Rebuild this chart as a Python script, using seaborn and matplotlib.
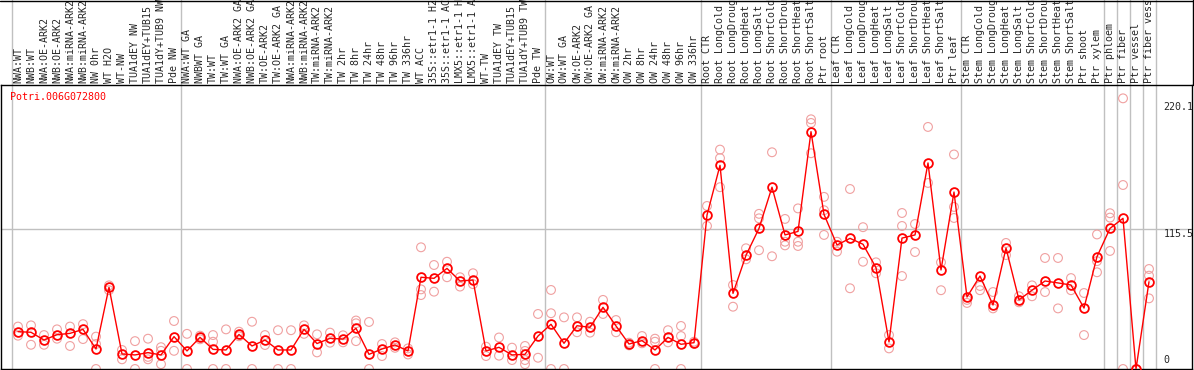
import matplotlib
matplotlib.use('Agg')
import matplotlib.pyplot as plt
import matplotlib.transforms as mtransforms
import seaborn as sns
import pandas as pd
import numpy as np

# sample labels (as far as they are visible in the header strip)
labels = [
    'NWA:WT', 'NWB:WT', 'NWA:OE-ARK2', 'NWB:OE-ARK2', 'NWA:miRNA-ARK2', 'NWB:miRNA-ARK2',
    'NW 0hr', 'WT H2O', 'WT-NW', 'TUA1dEY NW', 'TUA1dEY+TUB15', 'TUA1dY+TUB9 NW', 'Pde NW',
    'NWA:WT GA', 'NWBWT GA', 'TW:WT', 'TW:WT GA', 'NWA:OE-ARK2 GA', 'NWB:OE-ARK2 GA',
    'TW:OE-ARK2', 'TW:OE-ARK2 GA', 'NWA:miRNA-ARK2', 'NWB:miRNA-ARK2', 'TW:miRNA-ARK2',
    'TW:miRNA-ARK2', 'TW 2hr', 'TW 8hr', 'TW 24hr', 'TW 48hr', 'TW 96hr', 'TW 336hr',
    'WT ACC', '35S::etr1-1 H2', '35S::etr1-1 AC', 'LMX5::etr1-1 H', 'LMX5::etr1-1 A',
    'WT-TW', 'TUA1dEY TW', 'TUA1dEY+TUB15', 'TUA1dY+TUB9 TW', 'Pde TW',
    'OW:WT', 'OW:WT GA', 'OW:OE-ARK2', 'OW:OE-ARK2 GA', 'OW:miRNA-ARK2', 'OW:miRNA-ARK2',
    'OW 2hr', 'OW 8hr', 'OW 24hr', 'OW 48hr', 'OW 96hr', 'OW 336hr',
    'Root CTR', 'Root LongCold', 'Root LongDroug', 'Root LongHeat', 'Root LongSalt',
    'Root ShortCold', 'Root ShortDrou', 'Root ShortHeat', 'Root ShortSalt', 'Ptr root',
    'Leaf CTR', 'Leaf LongCold', 'Leaf LongDroug', 'Leaf LongHeat', 'Leaf LongSalt',
    'Leaf ShortCold', 'Leaf ShortDrou', 'Leaf ShortHeat', 'Leaf ShortSalt', 'Ptr leaf',
    'Stem CTR', 'Stem LongCold', 'Stem LongDroug', 'Stem LongHeat', 'Stem LongSalt',
    'Stem ShortCold', 'Stem ShortDrou', 'Stem ShortHeat', 'Stem ShortSalt', 'Ptr shoot',
    'Ptr xylem', 'Ptr phloem', 'Ptr fiber', 'Ptr vessel', 'Ptr fiber vess',
]

group_sizes = [13, 28, 12, 10, 10, 11, 1, 1, 1, 1]

means = [
    30.8, 30.3, 23.9, 28.3, 29.4, 32.7, 16.5, 67.4, 12.4, 11.6, 13.5, 11.6, 26.7,
    14.9, 26.1, 16.2, 15.7, 28.5, 19.0, 23.9, 15.7, 15.7, 32.7, 21.0, 25.3, 24.7, 33.6,
    12.1, 16.5, 19.8, 14.9, 75.7, 74.8, 83.0, 72.6, 73.4, 14.9, 17.9, 11.6, 12.1, 27.2,
    36.9, 21.2, 35.7, 34.4, 50.9, 35.5, 20.6, 23.4, 15.7, 26.1, 20.4, 21.7,
    127.0, 168.0, 62.4, 93.8, 116.0, 150.0, 110.6, 113.5, 195.8, 127.6,
    102.3, 107.8, 102.9, 83.6, 22.3, 108.0, 110.6, 170.0, 81.7, 146.0,
    59.4, 76.7, 52.8, 99.8, 57.0, 65.0, 72.6, 71.0, 69.3, 50.3, 92.7,
    116.0, 124.3, 0.0, 72.0,
]

replicates = [
    [35, 27.5], [36, 20], [28, 20], [32.7, 25], [35, 19], [37, 24.7], [26.7, 20.6, 0],
    [69, 65], [15.7, 8], [23, 0], [25, 8, 10], [18, 4, 15], [39.6, 15],
    [29, 0], [27.5, 24.5], [28, 22.5, 0], [32.7, 0], [30.8, 27], [39, 0], [28, 19.8],
    [32, 0], [32, 0], [36, 29], [28.6, 13.7], [30, 21.7], [27.8, 22], [40, 37.7, 23],
    [38.8, 0], [20.6, 10.7], [22, 17.5], [12, 17], [100.4, 65.7, 61], [85.8, 63.8],
    [88.5, 75.7], [75.7, 68], [79, 70], [18.4, 10.7], [26, 11], [17.6, 7.4],
    [19, 14.9, 7.4, 4], [45.4, 9.3],
    [65.2, 46, 0], [42.6, 0], [42.6, 30.3], [39, 30], [57, 45.4], [40.4, 30.3],
    [21.7, 19.5], [27.2, 21.2], [25, 22.5, 0], [32, 22], [35.5, 27.2, 0], [22.5, 20.8],
    [134.5, 118], [181, 174, 150], [69.3, 51.4], [99.6, 90.5], [128, 124.3, 98],
    [178.8, 93], [123.8, 105, 102], [132.5, 105, 101.5], [206, 203, 178], [142, 131, 110.6],
    [105, 96.8], [148.5, 66.6], [117, 88.5], [88, 79], [28, 17], [128.7, 118, 76.7],
    [119.6, 96.5], [199.7, 153.5], [88, 65], [177, 133.7, 124.6],
    [57, 54.5], [68.5, 65], [63.5, 50], [104, 94], [60, 55], [69, 60], [91.6, 63.5],
    [91.6, 50], [75, 65], [62.7, 28], [111, 89, 79.8],
    [128.5, 124.9, 97.4], [223.3, 151.8, 0], [0], [82.5, 77, 58.3],
]

gene_name = 'Potri.006G072800'
ytick_vals = [220.1, 115.5, 0]

mean_df = pd.DataFrame({'pos': np.arange(len(means)), 'value': means})
rep_df = pd.DataFrame([(i, v) for i, vals in enumerate(replicates) for v in vals],
                      columns=['pos', 'value'])

sns.set_style('white')
plt.rcParams['font.family'] = ['DejaVu Sans Mono']
fs = 7.2

W, H = 1194, 370
fig = plt.figure(figsize=(W / 100, H / 100), dpi=100)
left, right, top, bottom = 1, 1192, 85, 369
ax = fig.add_axes([left / W, (H - bottom) / H, (right - left) / W, (bottom - top) / H])

col_w = 13
x0 = 18
xmin = -(x0 - left) / col_w
ax.set_xlim(xmin, xmin + (right - left) / col_w)
ax.set_ylim(0, 234.3)

# group separators, running up through the label strip
bounds = np.concatenate([[0], np.cumsum(group_sizes)]) - 0.5
for b in bounds:
    ax.axvline(b, ymin=0, ymax=bottom / (bottom - top), color='#c0c0c0', lw=1,
               clip_on=False, zorder=0)
ax.axhline(115.5, color='#c0c0c0', lw=1, zorder=0)

sns.scatterplot(data=rep_df, x='pos', y='value', ax=ax, marker='o', s=40,
                linewidth=0.8, legend=False, zorder=2)
pts = ax.collections[-1]
pts.set_facecolor('none')
pts.set_edgecolor('#f0a0a0')

sns.lineplot(data=mean_df, x='pos', y='value', ax=ax, color='red', lw=1,
             marker='o', markersize=6.3, markerfacecolor='none',
             markeredgecolor='red', markeredgewidth=1.3, zorder=3)

trans = mtransforms.blended_transform_factory(ax.transData, ax.transAxes)
for i, lab in enumerate(labels):
    ax.text(i, 1 + 2 / (bottom - top), lab, transform=trans, rotation=90,
            ha='center', va='bottom', fontsize=fs, clip_on=False)

for v in ytick_vals:
    ax.text(88.1, v if v > 0 else 3, f'{v:g}', ha='left',
            va='top' if v > 0 else 'bottom', fontsize=fs)

fig.text(10 / W, 1 - 97 / H, gene_name, color='red', fontsize=fs, ha='left', va='center')

ax.set_xticks([])
ax.set_yticks([])
ax.set_xlabel('')
ax.set_ylabel('')
for sp in ax.spines.values():
    sp.set_visible(True)
    sp.set_color('black')
    sp.set_linewidth(1)

# top and right frame of the label strip
fig.add_artist(plt.Line2D([0, 1], [1 - 0.5 / H] * 2, color='black', lw=1,
                          transform=fig.transFigure))
fig.add_artist(plt.Line2D([1 - 1.5 / W] * 2, [(H - top) / H, 1], color='black', lw=1,
                          transform=fig.transFigure))

fig.savefig('out.png', dpi=100)
